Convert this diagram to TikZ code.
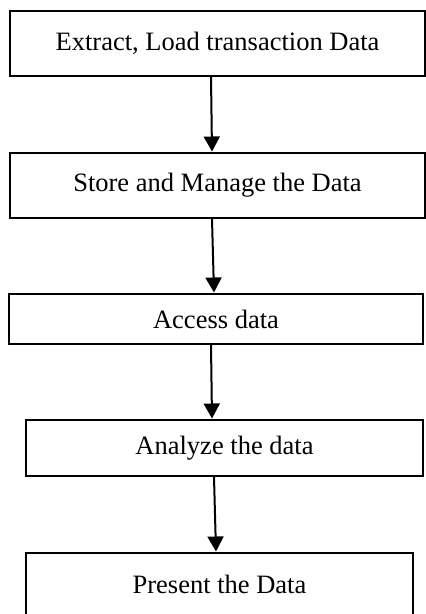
\documentclass[tikz,border=0pt]{standalone}
\usepackage{fontspec}
\setmainfont{Liberation Serif}
\usetikzlibrary{arrows.meta,positioning,calc}

\begin{document}
\begin{tikzpicture}[x=1pt,y=-1pt,>={Triangle[width=16pt,length=15pt]},
  font=\fontsize{26.5pt}{32pt}\selectfont,
  stage/.style={draw,line width=2pt,inner sep=0pt,minimum width=#1},
  flow/.style={->,line width=2pt,shorten >=0.5pt}]
\useasboundingbox (0,0) rectangle (426,614);

\node[stage=415pt,minimum height=65pt] (extract) at (217.5,43.5) {Extract, Load transaction Data};
\node[stage=415pt,minimum height=65pt] (store) at (217.5,185.5) {Store and Manage the Data};
\node[stage=414pt,minimum height=50pt] (access) at (216,319) {Access data};
\node[stage=397pt,minimum height=56pt] (analyze) at (224.5,448) {Analyze the data};
\node[stage=387pt,minimum height=63pt] (present) at (219.5,584.5) {Present the Data};

\draw[flow] ([xshift=-6.5pt]extract.south) -- ([xshift=-5.5pt]store.north);
\draw[flow] ([xshift=-5.5pt]store.south) -- ([xshift=-2pt]access.north);
\draw[flow] ([xshift=-5pt]access.south) -- ([xshift=-12.5pt]analyze.north);
\draw[flow] ([xshift=-10.5pt]analyze.south) -- ([xshift=-3.5pt]present.north);
\end{tikzpicture}
\end{document}
